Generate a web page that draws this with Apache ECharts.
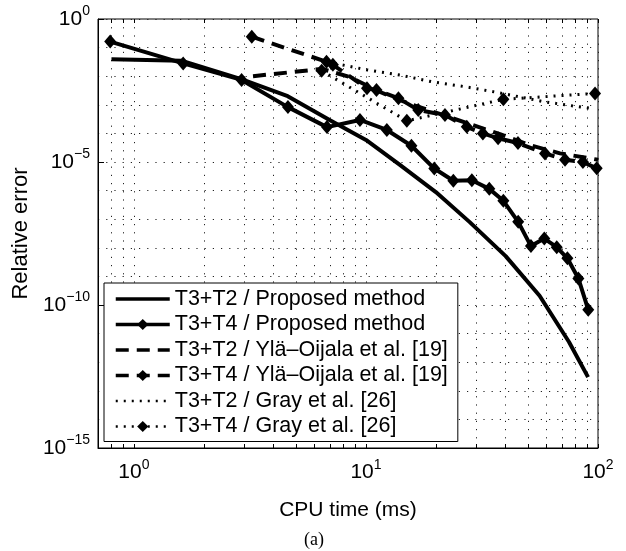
<!DOCTYPE html>
<html>
<head>
<meta charset="utf-8">
<script src="https://cdn.jsdelivr.net/npm/echarts@6/dist/echarts.min.js"></script>
<style>
  html, body { margin: 0; background: #fff; }
  #chart { width: 626px; height: 551px; }
</style>
</head>
<body>
<div id="chart"></div>
<script>
// CPU time (ms) and relative error
const xPropT2 = [0.8, 1.6, 2.9, 4.6, 7.0, 10, 14, 20, 28, 40, 56, 75, 90.6]
const yPropT2 = [3.9e-2, 3.5e-2, 7.9e-3, 2.0e-3, 2.9e-4, 5.9e-5, 7.9e-6, 8.9e-7, 7.9e-8, 5.1e-9, 2.1e-10, 5.1e-12, 3.0e-13]

const xPropT4 = [0.79, 1.63, 2.91, 4.61, 6.79, 9.42, 12.3, 15.7, 19.7, 23.8, 28.6, 34.0, 39.1, 45.3, 51.4, 58.7, 66.4, 73.8, 82.3, 90.8]
const yPropT4 = [0.162, 2.8e-2, 7.4e-3, 8.3e-4, 1.66e-4, 2.95e-4, 1.32e-4, 3.7e-5, 5.9e-6, 2.2e-6, 2.3e-6, 1.15e-6, 4.4e-7, 8.1e-8, 1.15e-8, 2.1e-8, 1.05e-8, 4.3e-9, 8.5e-10, 6.8e-11]

const xYlaT2 = [3.26, 6.46, 8.53, 11.5, 15.5, 20.8, 28.1, 37.8, 50.9, 68.6, 100]
const yYlaT2 = [1.0e-2, 1.8e-2, 9.3e-3, 2.8e-3, 1.07e-3, 4.8e-4, 2.1e-4, 9.5e-5, 3.9e-5, 2.0e-5, 1.2e-5]

const xYlaT4 = [3.22, 6.76, 7.2, 10.1, 11.1, 13.8, 16.8, 21.9, 27.2, 31.9, 37.1, 45.2, 59.1, 72.1, 86.1, 98.7]
const yYlaT4 = [0.24, 3.2e-2, 2.5e-2, 3.8e-3, 3.3e-3, 1.7e-3, 6.6e-4, 4.4e-4, 1.7e-4, 1.0e-4, 6.8e-5, 4.6e-5, 2.0e-5, 1.2e-5, 1.0e-5, 6.0e-6]

const xGrayT2 = [6.79, 10.1, 14.0, 19.4, 27.2, 37.8, 57.9, 73.3, 92.4]
const yGrayT2 = [3.2e-2, 1.66e-2, 1.1e-2, 6.3e-3, 4.2e-3, 2.6e-3, 1.3e-3, 9.8e-4, 7.6e-4]

const xGrayT4 = [6.44, 15.0, 39.1, 97.1]
const yGrayT4 = [1.55e-2, 2.75e-4, 1.55e-3, 2.5e-3]

const seriesNames = [
  'T3+T2 / Proposed method',
  'T3+T4 / Proposed method',
  'T3+T2 / Ylä\u2013Oijala et al. [19]',
  'T3+T4 / Ylä\u2013Oijala et al. [19]',
  'T3+T2 / Gray et al. [26]',
  'T3+T4 / Gray et al. [26]'
]

// axis range, as powers of ten
const xMin = 0.7
const xMax = 100
const xTickExps = [0, 1, 2]
const yTickExps = [-15, -10, -5, 0]

const FONT = '"Liberation Sans", Arial, sans-serif'
const log = v => Math.log10(v)
const toPts = (xs, ys) => xs.map((x, i) => [log(x), log(ys[i])])

// 1..9 x 10^k inside the x range (log space), for ticks and grid
const xGridVals = []
for (let d = -1; d <= 2; d++) {
  for (let m = 1; m <= 9; m++) {
    const v = m * Math.pow(10, d)
    if (v > xMin * 1.001 && v <= xMax * 1.001) xGridVals.push(log(v))
  }
}

const powLabel = e => '{b|10}{s|' + String(e).replace('-', '\u2212') + '}'
const labelRich = {
  b: { fontSize: 21, fontFamily: FONT, color: '#000' },
  s: { fontSize: 14, fontFamily: FONT, color: '#000', padding: [0, 0, 15, 0] }
}
const gridLine = { show: true, lineStyle: { color: '#222', width: 1, type: [1.2, 7] } }

const mk = (name, xs, ys, dash, width, marker) => ({
  name,
  type: 'line',
  data: toPts(xs, ys),
  symbol: marker ? 'diamond' : 'circle',
  showSymbol: marker,
  symbolSize: [12, 14],
  itemStyle: { color: '#000', opacity: marker ? 1 : 0 },
  lineStyle: { color: '#000', width, type: dash, opacity: 1 },
  z: 3,
  animation: false
})

const chart = echarts.init(document.getElementById('chart'))
chart.setOption({
  animation: false,
  backgroundColor: '#fff',
  grid: { left: 98, right: 28, top: 19, bottom: 103, show: true, borderColor: '#000', borderWidth: 1 },
  legend: {
    orient: 'vertical',
    left: 104,
    top: 283,
    padding: [5, 10, 4, 10],
    itemGap: 3.5,
    itemWidth: 54,
    itemHeight: 14,
    backgroundColor: '#fff',
    borderColor: '#000',
    borderWidth: 1,
    lineStyle: { width: 3.5 },
    textStyle: { fontSize: 21.5, lineHeight: 22, fontFamily: FONT, color: '#000' },
    data: seriesNames.map((name, i) => (i < 4 ? { name } : { name, lineStyle: { width: 2.5 } }))
  },
  xAxis: [{
    type: 'value',
    min: log(xMin),
    max: log(xMax),
    name: 'CPU time (ms)',
    nameLocation: 'middle',
    nameGap: 52,
    nameTextStyle: { fontSize: 21, fontFamily: FONT, color: '#000' },
    axisLine: { show: true, onZero: false, lineStyle: { color: '#000', width: 1 } },
    axisTick: { show: true, inside: true, length: 4, customValues: xGridVals, lineStyle: { color: '#000' } },
    axisLabel: { customValues: xTickExps, margin: 10, formatter: v => powLabel(Math.round(v)), rich: labelRich },
    splitLine: gridLine
  }, {
    type: 'value',
    position: 'top',
    min: log(xMin),
    max: log(xMax),
    axisLine: { show: false },
    axisTick: { show: true, inside: true, length: 4, customValues: xGridVals, lineStyle: { color: '#000' } },
    axisLabel: { show: false },
    splitLine: { show: false }
  }],
  yAxis: {
    type: 'value',
    min: -15,
    max: 0,
    interval: 5,
    name: 'Relative error',
    nameLocation: 'middle',
    nameGap: 60,
    nameTextStyle: { fontSize: 22, fontFamily: FONT, color: '#000' },
    axisLine: { show: true, onZero: false, lineStyle: { color: '#000', width: 1 } },
    axisTick: { show: true, inside: true, length: 6, lineStyle: { color: '#000' } },
    axisLabel: { margin: 8, formatter: v => powLabel(v), rich: labelRich },
    splitLine: gridLine,
    minorTick: { show: false, splitNumber: 5 },
    minorSplitLine: gridLine
  },
  graphic: [{
    type: 'text',
    left: 304,
    top: 531,
    style: { text: '(a)', font: '18px "Liberation Serif", "Times New Roman", serif', fill: '#000' }
  }],
  series: [
    mk(seriesNames[0], xPropT2, yPropT2, 'solid', 4, false),
    mk(seriesNames[1], xPropT4, yPropT4, 'solid', 4, true),
    mk(seriesNames[2], xYlaT2, yYlaT2, [13, 8], 4, false),
    mk(seriesNames[3], xYlaT4, yYlaT4, [13, 8], 4, true),
    mk(seriesNames[4], xGrayT2, yGrayT2, [2, 6], 3, false),
    mk(seriesNames[5], xGrayT4, yGrayT4, [2, 6], 3, true)
  ]
})
</script>
</body>
</html>
